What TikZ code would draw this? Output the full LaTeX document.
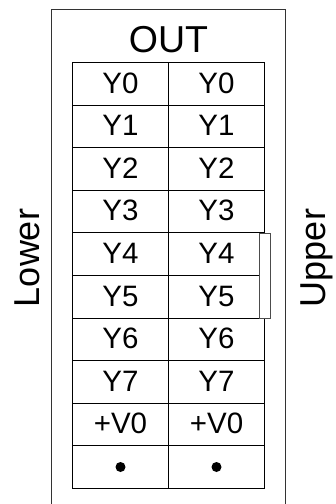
\documentclass[tikz,border=0pt]{standalone}
\usepackage{fontspec}
\setmainfont{Liberation Sans}
\tikzset{
  cellbox/.style={draw=black,line width=0.9pt,minimum width=96pt,minimum height=42.6pt,inner sep=0pt,outer sep=0pt,font=\fontsize{29.5}{30}\selectfont,text height=21pt,text depth=2.5pt},
  sidelabel/.style={font=\fontsize{36}{36}\selectfont,inner sep=0pt,anchor=base},
  frameline/.style={draw=black!80,line width=0.9pt},
  dotmark/.style={circle,fill=black,draw=none,minimum size=10pt,inner sep=0pt}
}
\begin{document}
\begin{tikzpicture}[x=1pt,y=-1pt]
\useasboundingbox (0,0) rectangle (336,504);
\draw[frameline] (51,504) -- (51,9.5) -- (285.7,9.5) -- (285.7,504);
\node[font=\fontsize{37.5}{38}\selectfont,inner sep=0pt,anchor=base] (title) at (168.5,52) {OUT};
\foreach \r/\t in {0/Y0,1/Y1,2/Y2,3/Y3,4/Y4,5/Y5,6/Y6,7/Y7,8/+V0}{
  \node[cellbox] (l\r) at (120.5,{83.8+42.6*\r}) {\t};
  \node[cellbox] (r\r) at (216.5,{83.8+42.6*\r}) {\t};
}
\node[cellbox] (l9) at (120.5,{83.8+42.6*9}) {};
\node[cellbox] (r9) at (216.5,{83.8+42.6*9}) {};
\node[dotmark] (dl) at (120.5,467) {};
\node[dotmark] (dr) at (216.5,467) {};
\draw[draw=black!70,fill=white,line width=0.8pt] (259,233) rectangle (270,318);
\node[sidelabel,rotate=90] (lower) at (39,258) {Lower};
\node[sidelabel,rotate=90] (upper) at (325,258) {Upper};
\end{tikzpicture}
\end{document}
